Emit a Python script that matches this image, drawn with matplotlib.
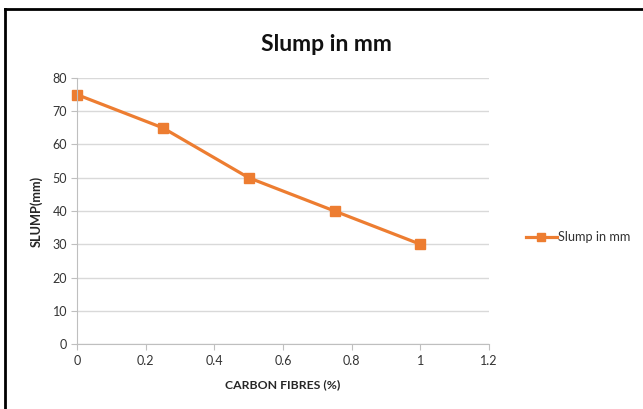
import matplotlib.pyplot as plt
from matplotlib.lines import Line2D

fibres = [0, 0.25, 0.5, 0.75, 1]
slump = [75, 65, 50, 40, 30]
xticks = [0, 0.2, 0.4, 0.6, 0.8, 1, 1.2]
xtick_labels = ['0', '0.2', '0.4', '0.6', '0.8', '1', '1.2']
yticks = [0, 10, 20, 30, 40, 50, 60, 70, 80]

plt.rcParams['font.family'] = ['Lato', 'DejaVu Sans']
orange = '#ED7D31'
grey = '#BFBFBF'

fig = plt.figure(figsize=(6.43, 4.09), dpi=100)
ax = fig.add_axes([0.1198, 0.1589, 0.6407, 0.6504])

ax.plot(fibres, slump, color=orange, lw=2.3, marker='s', markersize=6.8,
        label='Slump in mm', clip_on=False)

ax.set_xlim(0, 1.2)
ax.set_ylim(0, 80)
ax.set_xticks(xticks)
ax.set_xticklabels(xtick_labels)
ax.set_yticks(yticks)
ax.grid(axis='y', color='#D9D9D9', lw=1)
ax.set_axisbelow(True)
for s in ['top', 'right']:
    ax.spines[s].set_visible(False)
for s in ['left', 'bottom']:
    ax.spines[s].set_color(grey)
ax.tick_params(colors=grey, labelcolor='#333333', labelsize=9, length=4)
ax.tick_params(axis='x', pad=4)
ax.tick_params(axis='y', pad=3)
ax.set_xlabel('CARBON FIBRES (%)', fontsize=8.8, fontweight='bold', color='#262626', labelpad=9)
ax.set_ylabel('SLUMP(mm)', fontsize=9.2, fontweight='bold', color='#262626', labelpad=7)

fig.text(0.507, 0.89, 'Slump in mm', ha='center', va='center', fontsize=16.5,
         fontweight='bold', color='#111111')

fig.legend(handles=[Line2D([], [], color=orange, lw=2.3, marker='s', markersize=6)],
           labels=['Slump in mm'], loc='center left', bbox_to_anchor=(0.8, 0.42),
           frameon=False, fontsize=9.2, handlelength=2.4, handletextpad=0.1,
           labelcolor='#333333')

# chart frame lines (top and left)
fig.add_artist(Line2D([0.008, 1.0], [0.978, 0.978], color='black', lw=2, transform=fig.transFigure))
fig.add_artist(Line2D([0.008, 0.008], [0.0, 0.978], color='black', lw=2, transform=fig.transFigure))

fig.savefig('out.png', dpi=100)
